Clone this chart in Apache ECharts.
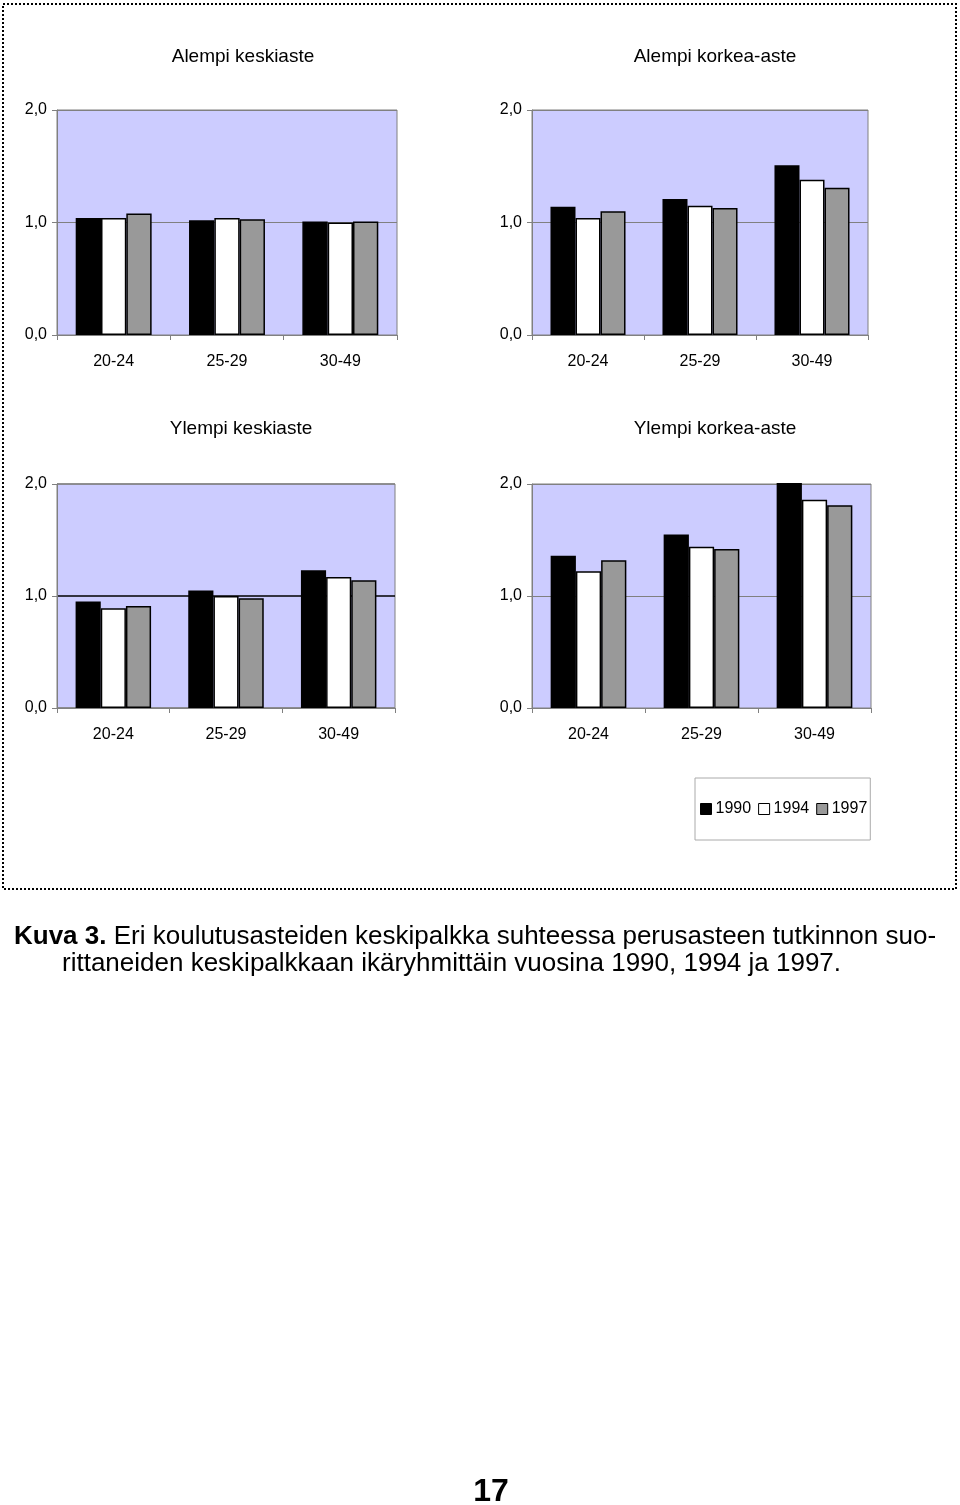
<!DOCTYPE html>
<html>
<head>
<meta charset="utf-8">
<script src="https://cdn.jsdelivr.net/npm/echarts@6/dist/echarts.min.js"></script>
<style>
html,body{margin:0;padding:0;background:#fff;}
#c{width:960px;height:1505px;}
</style>
</head>
<body>
<div id="c"></div>
<script>
// ---- data ----
const categories = ['20-24', '25-29', '30-49'];
const years = ['1990', '1994', '1997'];
const panelTitles = ['Alempi keskiaste', 'Alempi korkea-aste', 'Ylempi keskiaste', 'Ylempi korkea-aste'];
const yTicks = [0, 1, 2];

// Alempi keskiaste
const ak1990 = [1.04, 1.02, 1.01];
const ak1994 = [1.04, 1.04, 1.00];
const ak1997 = [1.08, 1.03, 1.01];
// Alempi korkea-aste
const akk1990 = [1.14, 1.21, 1.51];
const akk1994 = [1.04, 1.15, 1.38];
const akk1997 = [1.10, 1.13, 1.31];
// Ylempi keskiaste
const yk1990 = [0.95, 1.05, 1.23];
const yk1994 = [0.89, 1.00, 1.17];
const yk1997 = [0.91, 0.98, 1.14];
// Ylempi korkea-aste
const ykk1990 = [1.36, 1.55, 2.01];
const ykk1994 = [1.22, 1.44, 1.86];
const ykk1997 = [1.32, 1.42, 1.81];

const panels = [
  [ak1990, ak1994, ak1997],
  [akk1990, akk1994, akk1997],
  [yk1990, yk1994, yk1997],
  [ykk1990, ykk1994, ykk1997]
];

// ---- layout ----
const grids = [
  {left: 57, top: 110, width: 340, height: 225},
  {left: 532, top: 110, width: 336, height: 225},
  {left: 57, top: 484, width: 338, height: 224},
  {left: 532, top: 484, width: 339, height: 224}
];
const titleCenters = [[238, 42], [710, 42], [236, 414], [710, 414]];
const yearColors = ['#000000', '#ffffff', '#999999'];
const splitColors = [
  ['#808080'], ['#808080'], ['#808080', '#000000', '#808080'], ['#808080']
];
const FONT = '"Liberation Sans", Arial, sans-serif';

const chart = echarts.init(document.getElementById('c'), null, {renderer: 'canvas'});

const option = {
  backgroundColor: '#ffffff',
  animation: false,
  title: panelTitles.map((t, i) => ({
    text: t,
    left: titleCenters[i][0],
    top: titleCenters[i][1],
    textAlign: 'center',
    textStyle: {fontFamily: FONT, fontSize: 19, fontWeight: 'normal', color: '#000'}
  })).concat([
    {
      text: '{b|Kuva 3.} Eri koulutusasteiden keskipalkka suhteessa perusasteen tutkinnon suo-',
      left: 9, top: 919,
      textStyle: {fontFamily: FONT, fontSize: 26, fontWeight: 'normal', color: '#000',
        rich: {b: {fontFamily: FONT, fontSize: 26, fontWeight: 'bold', color: '#000'}}}
    },
    {
      text: 'rittaneiden keskipalkkaan ikäryhmittäin vuosina 1990, 1994 ja 1997.',
      left: 57, top: 946,
      textStyle: {fontFamily: FONT, fontSize: 26, fontWeight: 'normal', color: '#000'}
    },
    {
      text: '17',
      left: 486, top: 1471, textAlign: 'center',
      textStyle: {fontFamily: FONT, fontSize: 32, fontWeight: 'bold', color: '#000'}
    }
  ]),
  legend: {
    data: years,
    left: 695, top: 778,
    padding: [23, 3, 23, 5],
    backgroundColor: '#fff',
    borderColor: '#aaaaaa', borderWidth: 1,
    itemWidth: 11, itemHeight: 11, itemGap: 7,
    icon: 'rect',
    itemStyle: {borderColor: '#000', borderWidth: 1},
    textStyle: {fontFamily: FONT, fontSize: 16, color: '#000', padding: [0, 0, 0, -1]}
  },
  grid: grids.map(g => Object.assign({
    show: true, backgroundColor: '#ccccff', borderColor: '#808080', borderWidth: 1
  }, g)),
  xAxis: grids.map((g, i) => ({
    type: 'category', gridIndex: i, data: categories,
    axisLine: {lineStyle: {color: '#808080', width: 1}},
    axisTick: {show: true, length: 5, lineStyle: {color: '#808080'}},
    axisLabel: {fontFamily: FONT, fontSize: 16, color: '#000', margin: 19}
  })),
  yAxis: grids.map((g, i) => ({
    type: 'value', gridIndex: i, min: yTicks[0], max: yTicks[yTicks.length - 1], interval: 1,
    axisLine: {show: true, lineStyle: {color: '#808080', width: 1}},
    axisTick: {show: true, length: 5, lineStyle: {color: '#808080'}},
    splitLine: {show: true, lineStyle: {color: splitColors[i], width: i === 2 ? 1.5 : 1}},
    axisLabel: {fontFamily: FONT, fontSize: 16, color: '#000', margin: 10,
      formatter: v => v.toFixed(1).replace('.', ',')}
  })),
  series: []
};

panels.forEach((p, i) => {
  p.forEach((vals, k) => {
    option.series.push({
      type: 'bar', name: years[k], xAxisIndex: i, yAxisIndex: i,
      data: vals, barGap: '0%', barCategoryGap: '33%', clip: false,
      itemStyle: {color: yearColors[k], borderColor: '#000', borderWidth: 1.5},
      emphasis: {disabled: true}
    });
  });
});

option.graphic = [{
  type: 'rect', silent: true, z: -1,
  shape: {x: 3, y: 4, width: 953, height: 885},
  style: {fill: null, stroke: '#000', lineWidth: 2, lineDash: [2, 2]}
}];

chart.setOption(option);
</script>
</body>
</html>
